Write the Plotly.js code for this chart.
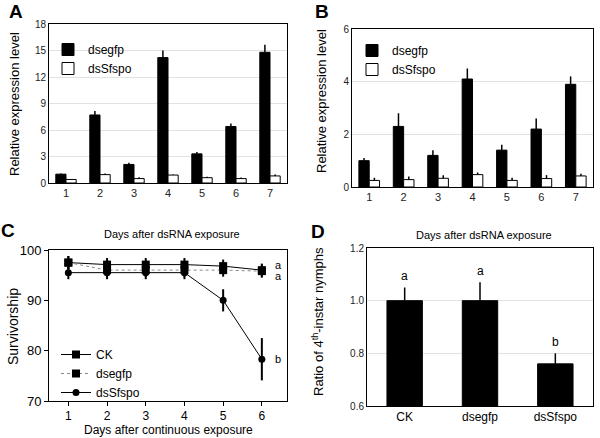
<!DOCTYPE html>
<html><head><meta charset="utf-8">
<script src="https://cdn.plot.ly/plotly-3.0.1.min.js"></script>
<style>html,body{margin:0;padding:0;background:#fff}#chart{width:600px;height:438px}</style>
</head><body><div id="chart"></div>
<script>
// ---- Panel A data ----
const daysAB = ['1','2','3','4','5','6','7'];
const aDsegfp = [1.0, 7.7, 2.1, 14.2, 3.3, 6.4, 14.8];
const aDsegfpErr = [0.08, 0.45, 0.2, 0.8, 0.2, 0.35, 0.85];
const aDsSfspo = [0.4, 0.95, 0.5, 0.9, 0.6, 0.5, 0.8];
const aDsSfspoErr = [0.05, 0.12, 0.15, 0.05, 0.1, 0.12, 0.15];
const aTicks = [0, 3, 6, 9, 12, 15, 18];
// ---- Panel B data ----
const bDsegfp = [1.0, 2.3, 1.2, 4.1, 1.4, 2.2, 3.9];
const bDsegfpErr = [0.1, 0.5, 0.2, 0.4, 0.2, 0.4, 0.3];
const bDsSfspo = [0.25, 0.28, 0.33, 0.47, 0.25, 0.32, 0.42];
const bDsSfspoErr = [0.1, 0.12, 0.12, 0.08, 0.1, 0.13, 0.08];
const bTicks = [0, 2, 4, 6];
// ---- Panel C data ----
const daysC = [1, 2, 3, 4, 5, 6];
const cCK = [97.5, 97.1, 97.1, 97.1, 96.8, 96.0];
const cCKErr = [1.3, 1.3, 1.3, 1.3, 1.3, 1.3];
const cDsegfp = [97.5, 96.0, 96.0, 96.0, 96.0, 95.8];
const cDsegfpErr = [1.3, 1.3, 1.3, 1.3, 1.3, 1.3];
const cDsSfspo = [95.5, 95.5, 95.5, 95.5, 90.0, 78.3];
const cDsSfspoErr = [1.3, 1.3, 1.3, 1.3, 2.2, 4.2];
const cLetters = ['a', 'a', 'b'];
const cLetterY = [97.1, 94.9, 78.3];
const cTicks = [70, 80, 90, 100];
// ---- Panel D data ----
const dGroups = ['CK', 'dsegfp', 'dsSfspo'];
const dRatio = [1.0, 1.0, 0.76];
const dErr = [0.05, 0.07, 0.04];
const dLetters = ['a', 'a', 'b'];
const dTicks = [0.6, 0.8, 1.0, 1.2];

const FONT = 'Liberation Sans, Arial, sans-serif';
const up = (e) => ({type:'data', symmetric:false, array:e, arrayminus:e.map(()=>0), width:0, thickness:1.5, color:'#000'});
const sym = (e) => ({type:'data', array:e, width:0, thickness:2, color:'#000'});

const traces = [
  {type:'bar', x:daysAB, y:aDsegfp, name:'dsegfp', xaxis:'x', yaxis:'y', marker:{color:'#000', line:{color:'#000', width:1}}, error_y:up(aDsegfpErr), legend:'legend'},
  {type:'bar', x:daysAB, y:aDsSfspo, name:'dsSfspo', xaxis:'x', yaxis:'y', marker:{color:'#fff', line:{color:'#000', width:1}}, error_y:up(aDsSfspoErr), legend:'legend'},
  {type:'bar', x:daysAB, y:bDsegfp, name:'dsegfp', xaxis:'x2', yaxis:'y2', marker:{color:'#000', line:{color:'#000', width:1}}, error_y:up(bDsegfpErr), legend:'legend2'},
  {type:'bar', x:daysAB, y:bDsSfspo, name:'dsSfspo', xaxis:'x2', yaxis:'y2', marker:{color:'#fff', line:{color:'#000', width:1}}, error_y:up(bDsSfspoErr), legend:'legend2'},
  {type:'scatter', mode:'lines+markers', x:daysC, y:cCK, name:'CK', xaxis:'x3', yaxis:'y3', line:{color:'#000', width:1}, marker:{symbol:'square', size:8, color:'#000'}, error_y:sym(cCKErr), legend:'legend3'},
  {type:'scatter', mode:'lines+markers', x:daysC, y:cDsegfp, name:'dsegfp', xaxis:'x3', yaxis:'y3', line:{color:'#888', width:1, dash:'dot'}, marker:{symbol:'square', size:8, color:'#000'}, error_y:sym(cDsegfpErr), legend:'legend3'},
  {type:'scatter', mode:'lines+markers', x:daysC, y:cDsSfspo, name:'dsSfspo', xaxis:'x3', yaxis:'y3', line:{color:'#000', width:1}, marker:{symbol:'circle', size:7, color:'#000'}, error_y:sym(cDsSfspoErr), legend:'legend3'},
  {type:'bar', x:dGroups, y:dRatio, name:'ratio', xaxis:'x4', yaxis:'y4', width:0.47, marker:{color:'#000', line:{color:'#000', width:1}}, error_y:up(dErr), showlegend:false}
];

const frame = {showline:true, mirror:true, linecolor:'#000', linewidth:1, zeroline:false, tickfont:{family:FONT, size:10, color:'#222'}};
const ann = [];
function txt(text, x, y, size, opts) {
  ann.push(Object.assign({text:text, x:x, y:y, xref:'paper', yref:'paper', xanchor:'center', yanchor:'middle', showarrow:false, font:{family:FONT, size:size, color:'#000'}}, opts||{}));
}
txt('<b>A</b>', 16/600, 1-11/438, 19);
txt('<b>B</b>', 322/600, 1-11/438, 19);
txt('<b>C</b>', 8/600, 1-230/438, 19);
txt('<b>D</b>', 318/600, 1-231/438, 19);
txt('Relative expression level', 14/600, 1-104/438, 13, {textangle:-90});
txt('Relative expression level', 322/600, 1-101/438, 13, {textangle:-90});
txt('Survivorship', 13/600, 1-327/438, 14, {textangle:-90});
txt('Ratio of 4<sup>th</sup>-instar nymphs', 318/600, 1-322/438, 13, {textangle:-90});
txt('Days after dsRNA exposure', 172/600, 1-234/438, 11);
txt('Days after dsRNA exposure', 484/600, 1-235/438, 11);
txt('Days after continuous exposure', 168/600, 1-430/438, 12);
cLetters.forEach((l, i) => ann.push({text:l, x:6.3, y:cLetterY[i], xref:'x3', yref:'y3', xanchor:'left', yanchor:'middle', showarrow:false, font:{family:FONT, size:11, color:'#000'}}));
dLetters.forEach((l, i) => ann.push({text:l, x:dGroups[i], y:dRatio[i]+dErr[i]+0.01, xref:'x4', yref:'y4', xanchor:'center', yanchor:'bottom', showarrow:false, font:{family:FONT, size:12, color:'#000'}}));

const layout = {
  width:600, height:438, margin:{l:0, r:0, t:0, b:0}, paper_bgcolor:'#fff', plot_bgcolor:'#fff',
  barmode:'group', bargap:0.4, bargroupgap:0,
  font:{family:FONT, color:'#000'},
  xaxis: Object.assign({}, frame, {domain:[49/600, 287/600], anchor:'y', type:'category', range:[-0.5, 6.5], showgrid:false, ticks:'', tickfont:{family:FONT, size:11, color:'#222'}}),
  yaxis: Object.assign({}, frame, {domain:[1-183/438, 1-24/438], anchor:'x', range:[0, 18], tickvals:aTicks, showgrid:true, gridcolor:'#e2e2e2', ticks:''}),
  xaxis2: Object.assign({}, frame, {domain:[352/600, 593/600], anchor:'y2', type:'category', range:[-0.5, 6.5], showgrid:false, ticks:'', tickfont:{family:FONT, size:11, color:'#222'}}),
  yaxis2: Object.assign({}, frame, {domain:[1-187/438, 1-29/438], anchor:'x2', range:[0, 6], tickvals:bTicks, showgrid:true, gridcolor:'#e2e2e2', ticks:''}),
  xaxis3: Object.assign({}, frame, {domain:[49/600, 287/600], anchor:'y3', range:[0.5, 6.65], tickvals:daysC, showgrid:false, ticks:'outside', ticklen:4, tickcolor:'#000', tickfont:{family:FONT, size:12, color:'#000'}}),
  yaxis3: Object.assign({}, frame, {domain:[1-401/438, 1-250/438], anchor:'x3', range:[70, 100], tickvals:cTicks, showgrid:false, ticks:'outside', ticklen:4, tickcolor:'#000', tickfont:{family:FONT, size:13, color:'#000'}}),
  xaxis4: Object.assign({}, frame, {domain:[367/600, 593/600], anchor:'y4', type:'category', range:[-0.5, 2.5], showgrid:false, ticks:'', tickfont:{family:FONT, size:12, color:'#000'}}),
  yaxis4: Object.assign({}, frame, {domain:[1-406/438, 1-248/438], anchor:'x4', range:[0.6, 1.2], tickvals:dTicks, tickformat:'.1f', showgrid:true, gridcolor:'#e2e2e2', ticks:''}),
  legend: {x:48/600, y:1-35/438, xanchor:'left', yanchor:'top', bgcolor:'rgba(0,0,0,0)', font:{family:FONT, size:12, color:'#000'}, tracegroupgap:0, itemwidth:30},
  legend2: {x:352/600, y:1-36/438, xanchor:'left', yanchor:'top', bgcolor:'rgba(0,0,0,0)', font:{family:FONT, size:12, color:'#000'}, tracegroupgap:0, itemwidth:30},
  legend3: {x:56/600, y:1-340/438, xanchor:'left', yanchor:'top', bgcolor:'rgba(0,0,0,0)', font:{family:FONT, size:12, color:'#000'}, tracegroupgap:0, itemwidth:30},
  annotations: ann,
  showlegend:true
};
Plotly.newPlot('chart', traces, layout, {displayModeBar:false, staticPlot:true});
</script></body></html>
